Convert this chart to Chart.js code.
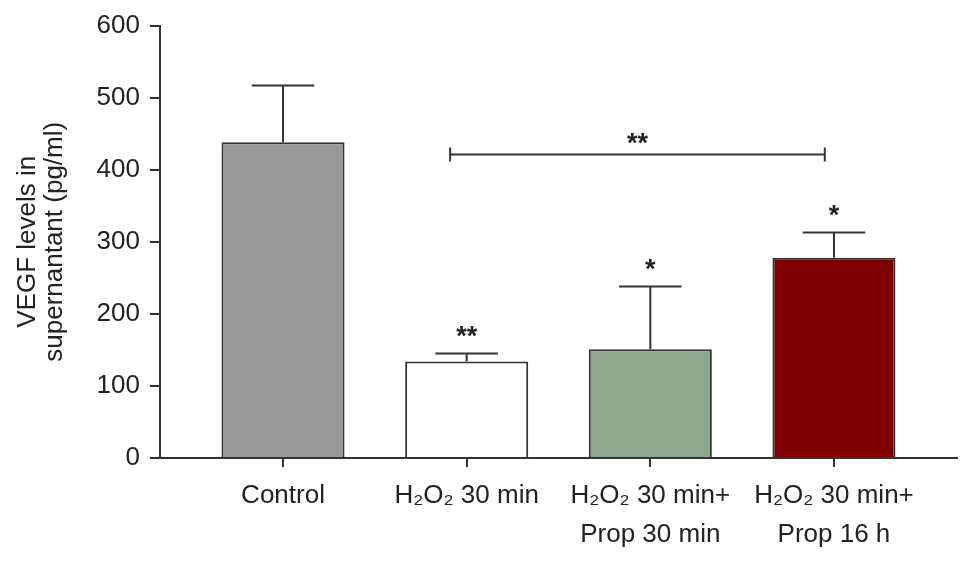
<!DOCTYPE html>
<html>
<head>
<meta charset="utf-8">
<script src="https://cdn.jsdelivr.net/npm/chart.js@4"></script>
<style>
    html, body { margin: 0; padding: 0; background: #fff; }
    #wrap { width: 969px; height: 563px; }
</style>
</head>
<body>
<div id="wrap"><canvas id="vegfChart" width="969" height="563"></canvas></div>
<script>
// values
const categories = [["Control"], ["H\u2082O\u2082 30 min"], ["H\u2082O\u2082 30 min+", "Prop 30 min"], ["H\u2082O\u2082 30 min+", "Prop 16 h"]];
const means = [438, 134, 151, 278];
const errors = [79, 11, 87, 35];
const sigMarks = ["", "**", "*", "*"];
const barColors = ["#999999", "#ffffff", "#8fa68f", "#7f0000"];
const yTicks = [0, 100, 200, 300, 400, 500, 600];
const yTitle = ["VEGF levels in", "supernantant (pg/ml)"];
// bracket between H2O2 30 min and H2O2 30 min + Prop 16 h
const bracket = { from: 0.91, to: 2.95, level: 421, mark: "**" };

const ink = "#333333";
const fontFamily = "'Liberation Sans', Arial, Helvetica, sans-serif";

const annotations = {
    id: "annotations",
    afterDatasetsDraw(chart) {
        const ctx = chart.ctx;
        const x = chart.scales.x, y = chart.scales.y;
        ctx.save();
        ctx.strokeStyle = ink;
        ctx.lineWidth = 2;
        ctx.fillStyle = "#222";
        ctx.textAlign = "center";
        ctx.textBaseline = "middle";
        ctx.font = "bold 27px " + fontFamily;
        means.forEach((m, i) => {
            const cx = x.getPixelForValue(i);
            const top = y.getPixelForValue(m + errors[i]);
            const half = x.getPixelForValue(i + 0.17) - cx;
            ctx.beginPath();
            ctx.moveTo(cx, y.getPixelForValue(m));
            ctx.lineTo(cx, top);
            ctx.moveTo(cx - half, top);
            ctx.lineTo(cx + half, top);
            ctx.stroke();
            if (sigMarks[i]) {
                ctx.fillText(sigMarks[i], cx, top - 16);
            }
        });
        const bx1 = x.getPixelForValue(bracket.from);
        const bx2 = x.getPixelForValue(bracket.to);
        const by = y.getPixelForValue(bracket.level);
        ctx.beginPath();
        ctx.moveTo(bx1, by);
        ctx.lineTo(bx2, by);
        ctx.moveTo(bx1, by - 7);
        ctx.lineTo(bx1, by + 7);
        ctx.moveTo(bx2, by - 7);
        ctx.lineTo(bx2, by + 7);
        ctx.stroke();
        ctx.fillText(bracket.mark, (bx1 + bx2) / 2, by - 10);
        ctx.restore();
    }
};

const ctx = document.getElementById("vegfChart").getContext("2d");
new Chart(ctx, {
    type: "bar",
    data: {
        datasets: [{
            data: means.map((v, i) => ({ x: i, y: v })),
            backgroundColor: barColors,
            borderColor: ink,
            borderWidth: 2,
            borderSkipped: "start",
            barPercentage: 0.67,
            categoryPercentage: 1
        }]
    },
    options: {
        responsive: false,
        animation: false,
        layout: { padding: { top: 18, right: 12, left: 14, bottom: 0 } },
        plugins: {
            legend: { display: false },
            tooltip: { enabled: false }
        },
        scales: {
            x: {
                type: "linear",
                min: -0.67,
                max: 3.67,
                offset: false,
                afterBuildTicks: axis => {
                    axis.ticks = categories.map((c, i) => ({ value: i }));
                },
                ticks: {
                    autoSkip: false,
                    maxRotation: 0,
                    padding: 9,
                    color: "#222",
                    font: { family: fontFamily, size: 26, lineHeight: 1.5 },
                    callback: (value) => categories[value]
                },
                grid: {
                    offset: false,
                    drawOnChartArea: false,
                    drawTicks: true,
                    tickLength: 9,
                    color: ink,
                    lineWidth: 2
                },
                border: { color: ink, width: 2 }
            },
            y: {
                min: 0,
                max: 600,
                afterBuildTicks: axis => {
                    axis.ticks = yTicks.map(v => ({ value: v }));
                },
                ticks: {
                    padding: 10,
                    color: "#222",
                    font: { family: fontFamily, size: 26 }
                },
                grid: {
                    drawOnChartArea: false,
                    drawTicks: true,
                    tickLength: 10,
                    color: ink,
                    lineWidth: 2
                },
                border: { color: ink, width: 2 },
                title: {
                    display: true,
                    text: yTitle,
                    color: "#222",
                    padding: { top: 0, bottom: 18 },
                    font: { family: fontFamily, size: 26, lineHeight: 1.05 }
                }
            }
        }
    },
    plugins: [annotations]
});
</script>
</body>
</html>
